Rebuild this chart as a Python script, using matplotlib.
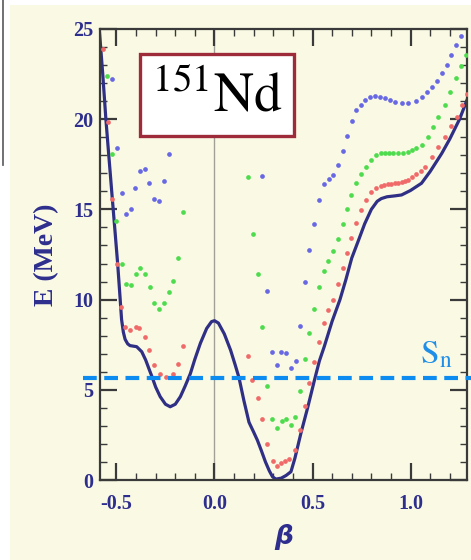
import matplotlib
matplotlib.use("Agg")
import matplotlib.pyplot as plt
from matplotlib.patches import Rectangle
from matplotlib.lines import Line2D
from matplotlib.ticker import MultipleLocator

plt.rcParams['mathtext.fontset'] = 'stix'
plt.rcParams['axes.unicode_minus'] = False

# ---------------- data ----------------
# total potential energy curve (solid line)
curve_beta = [-0.590, -0.570, -0.554, -0.540, -0.522, -0.508, -0.494, -0.482, -0.474,
              -0.465, -0.456, -0.443, -0.431, -0.414, -0.397, -0.371, -0.351, -0.332,
              -0.318, -0.300, -0.277, -0.250, -0.226, -0.200, -0.174, -0.150, -0.123,
              -0.100, -0.072, -0.040, -0.015, 0.000, 0.020, 0.050, 0.082, 0.105, 0.125,
              0.150, 0.176, 0.200, 0.219, 0.240, 0.260, 0.280, 0.296, 0.313, 0.340,
              0.365, 0.390, 0.410, 0.441, 0.475, 0.510, 0.535, 0.560, 0.600, 0.640,
              0.670, 0.700, 0.735, 0.766, 0.800, 0.830, 0.851, 0.880, 0.920, 0.954,
              1.000, 1.056, 1.100, 1.159, 1.200, 1.250, 1.300]
curve_E = [25.3, 22.5, 20.0, 18.1, 15.7, 13.86, 12.0, 10.16, 8.9,
           8.2, 7.8, 7.55, 7.45, 7.42, 7.39, 7.11, 6.65, 6.1,
           5.7, 5.15, 4.62, 4.2, 4.06, 4.2, 4.62, 5.2, 5.9,
           6.7, 7.58, 8.4, 8.78, 8.83, 8.7, 8.1, 7.2, 6.4, 5.67,
           4.4, 3.2, 2.65, 2.2, 1.6, 1.0, 0.5, 0.18, 0.05, 0.1,
           0.25, 0.46, 1.2, 2.6, 4.0, 5.54, 6.6, 7.4, 8.8, 10.0,
           11.1, 12.3, 13.3, 14.2, 15.0, 15.45, 15.6, 15.7, 15.75, 15.8,
           16.05, 16.45, 17.1, 18.1, 18.9, 20.0, 21.4]

red_beta = [-0.568, -0.542, -0.525, -0.499, -0.477, -0.456, -0.431, -0.402, -0.385,
            -0.357, -0.332, -0.311, -0.280, -0.248, -0.212, -0.186, -0.162,
            0.171, 0.193, 0.222, 0.241, 0.270, 0.296, 0.318, 0.338, 0.361, 0.381,
            0.412, 0.438, 0.463, 0.484, 0.510, 0.535, 0.557, 0.578, 0.605, 0.632,
            0.655, 0.677, 0.697, 0.723, 0.745, 0.771, 0.796, 0.822, 0.848, 0.866,
            0.884, 0.902, 0.920, 0.937, 0.955, 0.972, 0.988, 1.010, 1.030, 1.052,
            1.074, 1.108, 1.142, 1.176, 1.207, 1.236, 1.262, 1.287]
red_E = [23.87, 19.86, 15.56, 11.97, 9.6, 8.5, 8.31, 8.5, 8.4,
         7.94, 7.2, 6.37, 5.87, 5.73, 5.87, 6.41, 7.43,
         6.87, 5.54, 4.56, 3.38, 2.0, 1.07, 0.79, 0.92, 1.05, 1.15,
         1.66, 2.77, 4.1, 5.36, 6.56, 7.67, 8.69, 9.42, 10.0, 10.86,
         11.73, 12.57, 13.4, 14.23, 14.97, 15.52, 15.98, 16.2, 16.32, 16.37,
         16.41, 16.43, 16.44, 16.45, 16.5, 16.56, 16.63, 16.78, 16.95, 17.15,
         17.37, 17.92, 18.48, 19.03, 19.62, 20.14, 20.79, 21.4]

green_beta = [-0.547, -0.525, -0.503, -0.473, -0.453, -0.426, -0.402, -0.379, -0.357,
              -0.328, -0.308, -0.282, -0.256, -0.234, -0.212, -0.186, -0.160,
              0.171, 0.195, 0.222, 0.244, 0.270, 0.292, 0.321, 0.342, 0.367, 0.390,
              0.412, 0.438, 0.463, 0.484, 0.509, 0.532, 0.560, 0.581, 0.605, 0.630,
              0.655, 0.677, 0.697, 0.723, 0.749, 0.774, 0.800, 0.826, 0.851, 0.870,
              0.890, 0.910, 0.937, 0.962, 0.988, 1.010, 1.030, 1.060, 1.090, 1.116,
              1.142, 1.176, 1.200, 1.231, 1.258, 1.284]
green_E = [22.4, 18.07, 14.37, 11.97, 10.86, 10.8, 11.42, 11.73, 11.42,
           10.72, 9.83, 9.48, 9.83, 10.4, 11.05, 12.32, 14.87,
           16.78, 13.64, 11.4, 8.5, 5.21, 3.36, 2.9, 3.29, 3.36, 3.03,
           3.51, 4.95, 6.69, 8.15, 9.46, 10.68, 11.6, 12.16, 12.7, 13.37,
           14.19, 15.03, 15.8, 16.45, 16.96, 17.37, 17.74, 18.02, 18.14, 18.15,
           18.14, 18.12, 18.1, 18.13, 18.2, 18.29, 18.39, 18.57, 19.03, 19.55,
           20.14, 20.79, 21.52, 22.27, 22.95, 23.56]

blue_beta = [-0.525, -0.499, -0.473, -0.451, -0.427, -0.405, -0.379, -0.357, -0.332,
             -0.308, -0.282, -0.260, -0.234,
             0.244, 0.270, 0.292, 0.318, 0.338, 0.364, 0.390, 0.415, 0.438, 0.461,
             0.484, 0.509, 0.535, 0.561, 0.583, 0.607, 0.630, 0.655, 0.677, 0.701,
             0.723, 0.745, 0.769, 0.791, 0.817, 0.843, 0.868, 0.894, 0.920, 0.954,
             0.988, 1.030, 1.060, 1.086, 1.108, 1.133, 1.159, 1.185, 1.207, 1.231,
             1.258]
blue_E = [22.23, 18.42, 15.89, 14.76, 15.02, 16.2, 17.15, 17.22, 16.45,
          15.56, 15.47, 16.59, 18.07,
          16.87, 10.49, 7.08, 6.37, 7.11, 7.02, 6.2, 6.61, 8.54, 10.96,
          12.75, 14.19, 15.52, 16.39, 16.7, 16.93, 17.46, 18.22, 19.09, 19.9,
          20.51, 20.79, 21.06, 21.21, 21.29, 21.25, 21.16, 21.06, 20.97, 20.88,
          20.9, 21.0, 21.21, 21.52, 21.8, 22.12, 22.54, 23.0, 23.56, 24.11,
          24.63]

SN = 5.67
x_ticks = [-0.5, 0.0, 0.5, 1.0]
x_tick_labels = ['-0.5', '0.0', '0.5', '1.0']
y_ticks = [0, 5, 10, 15, 20, 25]
y_tick_labels = ['0', '5', '10', '15', '20', '25']

# ---------------- styling ----------------
CREAM = '#FAFAE4'
NAVY = '#2E2E8E'
LINE = '#2F2F86'

W, H = 471, 560
fig = plt.figure(figsize=(W / 100, H / 100), dpi=100)
fig.patch.set_facecolor('white')
fig.add_artist(Rectangle((10 / W, 0), 1 - 10 / W, 1 - 5 / H, transform=fig.transFigure,
                         facecolor=CREAM, edgecolor='none', zorder=0))
fig.add_artist(Line2D([3 / W, 3 / W], [1, 1 - 165 / H], transform=fig.transFigure,
                      color='#666666', lw=1.3, zorder=1))

ax = fig.add_axes([100 / W, 80 / H, 367 / W, 451 / H])
ax.set_facecolor(CREAM)
ax.set_xlim(-0.584, 1.288)
ax.set_ylim(0, 25)

ax.axvline(0, color='#A0A096', lw=1.0, zorder=1)

ax.plot(curve_beta, curve_E, color=LINE, lw=2.3, zorder=2,
        solid_capstyle='round', solid_joinstyle='round')
ax.plot(red_beta, red_E, 'o', color='#F06A6A', ms=3.4, mew=0, zorder=3)
ax.plot(green_beta, green_E, 'o', color='#4EDC4E', ms=3.4, mew=0, zorder=3)
ax.plot(blue_beta, blue_E, 'o', color='#6868E4', ms=3.4, mew=0, zorder=3)

ax.axhline(SN, xmin=-0.046, xmax=1.011, clip_on=False, color='#0C8CF0', lw=3.0,
           dashes=(3.3, 1.8), zorder=6)
ax.text((420 - 100) / 367, (480 - 363) / 451, r'$\mathrm{S}_{\mathrm{n}}$',
        transform=ax.transAxes, ha='left', va='baseline', fontsize=24,
        color='#1E8EE8', zorder=7)

# label box
ax.add_patch(Rectangle(((140 - 100) / 367, (480 - 136) / 451), 154 / 367, 82 / 451,
                       transform=ax.transAxes, facecolor='white', edgecolor='#9E2B3A',
                       lw=2.4, zorder=8))
ax.text((217.5 - 100) / 367, (480 - 111.7) / 451, r'$^{151}\mathrm{Nd}$',
        transform=ax.transAxes, ha='center', va='baseline', fontsize=40,
        color='black', zorder=9)

# ticks
ax.set_xticks(x_ticks)
ax.set_xticklabels(x_tick_labels)
ax.set_yticks(y_ticks)
ax.set_yticklabels(y_tick_labels)
ax.xaxis.set_minor_locator(MultipleLocator(0.1))
ax.yaxis.set_minor_locator(MultipleLocator(1))
ax.tick_params(which='both', direction='in', top=True, right=True, colors='#3A3A3A')
ax.tick_params(which='major', length=12, width=1.6)
ax.tick_params(which='minor', length=5, width=1.0)
ax.tick_params(axis='x', which='major', pad=10, labelcolor=NAVY, labelsize=14.5)
ax.tick_params(axis='y', which='major', pad=5, labelcolor=NAVY, labelsize=14.5)
for lbl in ax.get_xticklabels() + ax.get_yticklabels():
    lbl.set_fontfamily('Liberation Serif')
    lbl.set_fontweight('bold')
for sp in ax.spines.values():
    sp.set_color('#3A3A3A')
    sp.set_linewidth(1.6)

ax.text((47 - 100) / 367, 0.5, 'E (MeV)', transform=ax.transAxes, rotation=90,
        ha='center', va='center', fontsize=20, fontweight='bold',
        family='Liberation Serif', color=NAVY)
ax.text(0.5, (480 - 537) / 451, 'β', transform=ax.transAxes, ha='center', va='center',
        fontsize=19, fontweight='bold', fontstyle='italic', family='DejaVu Sans',
        color=NAVY)

fig.savefig('out.png', dpi=100, facecolor=fig.get_facecolor())
